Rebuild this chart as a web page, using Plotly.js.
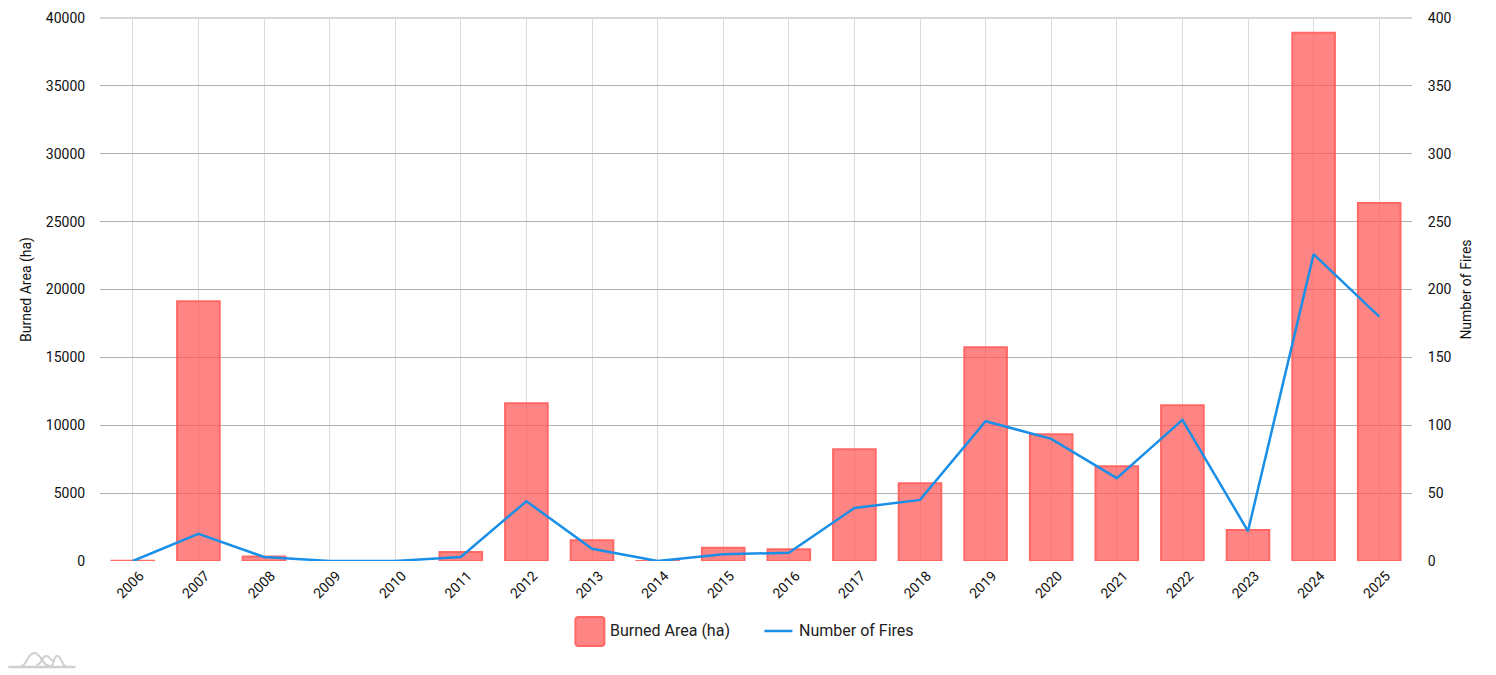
<!DOCTYPE html>
<html>
<head>
<meta charset="utf-8">
<script src="https://cdn.plot.ly/plotly-3.0.1.min.js"></script>
<style>html,body{margin:0;padding:0;background:#fff;overflow:hidden}#chart{width:1496px;height:675px}</style>
</head>
<body>
<div id="chart"></div>
<script>
const years = ["2006","2007","2008","2009","2010","2011","2012","2013","2014","2015","2016","2017","2018","2019","2020","2021","2022","2023","2024","2025"];
const burnedArea = [10,19130,330,0,0,660,11620,1520,5,980,870,8230,5730,15750,9330,6980,11480,2280,38910,26380];
const numFires = [0,20,3,0,0,3,44,9,0,5,6,39,45,103,90,61,104,22,226,180];
const areaName = "Burned Area (ha)";
const firesName = "Number of Fires";
const font = "Roboto, sans-serif";
const tickFont = {family:font,size:14,color:"#111"};
const titleFont = {family:font,size:14,color:"#111"};
const barFill = "rgba(255,84,84,0.72)";
const barEdge = "rgba(255,100,96,0.95)";
const lineColor = "#1a8fe8";
const logoGrey = "#cfcfcf";

const traces = [
  {type:"bar", name:areaName, x:years, y:burnedArea, yaxis:"y", width:0.65,
   marker:{color:barFill, line:{color:barEdge, width:2}}},
  {type:"scatter", mode:"lines", name:firesName, x:years, y:numFires, yaxis:"y2",
   line:{color:lineColor, width:2.5}}
];

// Convert page pixels to paper coords for the legend and logo decoration
const pw = 1496-99.6-84.4, ph = 675-18-114;
const px = x => (x-99.6)/pw, py = y => (561-y)/ph;

const layout = {
  width:1496, height:675, margin:{l:99.6,r:84.4,t:18,b:114,pad:0},
  paper_bgcolor:"#fff", plot_bgcolor:"#fff",
  font:{family:font,size:14,color:"#111"},
  showlegend:false,
  xaxis:{type:"category", range:[-0.5,19.5], tickangle:-45, showgrid:true, gridcolor:"#dcdcdc", gridwidth:1,
         ticks:"", zeroline:false, showline:false, tickfont:tickFont, automargin:false,
         ticklabelshift:7, ticklabelstandoff:3},
  yaxis:{range:[0,40000], tickvals:[0,5000,10000,15000,20000,25000,30000,35000,40000], tickformat:"d",
         showgrid:true, gridcolor:"#b0b0b0", gridwidth:1, zeroline:false, showline:false,
         ticks:"outside", ticklen:11, tickcolor:"rgba(0,0,0,0)", tickfont:tickFont,
         title:{text:areaName, font:titleFont, standoff:10}, automargin:false},
  yaxis2:{range:[0,400], tickvals:[0,50,100,150,200,250,300,350,400], overlaying:"y", side:"right",
         showgrid:false, zeroline:false, showline:false,
         ticks:"outside", ticklen:12, tickcolor:"rgba(0,0,0,0)", tickfont:tickFont,
         title:{text:firesName, font:titleFont, standoff:10}, automargin:false},
  shapes:[
    {type:"line", xref:"paper", yref:"paper", layer:"below", x0:0, x1:1, y0:1, y1:1, line:{color:"#b0b0b0",width:1}},
    {type:"path", xref:"paper", yref:"paper", layer:"above",
     path:`M ${px(578)} ${py(617)} L ${px(601)} ${py(617)} Q ${px(604)} ${py(617)} ${px(604)} ${py(620)} L ${px(604)} ${py(643)} Q ${px(604)} ${py(646)} ${px(601)} ${py(646)} L ${px(578)} ${py(646)} Q ${px(575)} ${py(646)} ${px(575)} ${py(643)} L ${px(575)} ${py(620)} Q ${px(575)} ${py(617)} ${px(578)} ${py(617)} Z`,
     fillcolor:barFill, line:{color:barEdge,width:2}},
    {type:"line", xref:"paper", yref:"paper", layer:"above", x0:px(764), x1:px(792), y0:py(631), y1:py(631),
     line:{color:lineColor,width:2.5}},
    {type:"line", xref:"paper", yref:"paper", layer:"above", x0:px(8), x1:px(75), y0:py(667), y1:py(667),
     line:{color:logoGrey,width:2.4}},
    {type:"path", xref:"paper", yref:"paper", layer:"above",
     path:`M ${px(20)} ${py(667)} C ${px(27)} ${py(665)} ${px(27)} ${py(653)} ${px(34)} ${py(653)} C ${px(41)} ${py(653)} ${px(42)} ${py(667)} ${px(50)} ${py(666)} C ${px(55)} ${py(666)} ${px(52)} ${py(656)} ${px(57)} ${py(656)} C ${px(62)} ${py(656)} ${px(60)} ${py(667)} ${px(68)} ${py(667)}`,
     line:{color:logoGrey,width:2}},
    {type:"path", xref:"paper", yref:"paper", layer:"above",
     path:`M ${px(36)} ${py(665)} C ${px(42)} ${py(664)} ${px(41)} ${py(656)} ${px(46)} ${py(656)} C ${px(50)} ${py(656)} ${px(50)} ${py(661)} ${px(53)} ${py(661)}`,
     line:{color:logoGrey,width:2}}
  ],
  annotations:[
    {xref:"paper",yref:"paper",x:px(608),y:py(630.5),xanchor:"left",yanchor:"middle",showarrow:false,text:areaName,font:{family:font,size:16,color:"#222"}},
    {xref:"paper",yref:"paper",x:px(797),y:py(630.5),xanchor:"left",yanchor:"middle",showarrow:false,text:firesName,font:{family:font,size:16,color:"#222"}}
  ]
};
Plotly.newPlot("chart", traces, layout, {staticPlot:true, displayModeBar:false});
</script>
</body>
</html>
